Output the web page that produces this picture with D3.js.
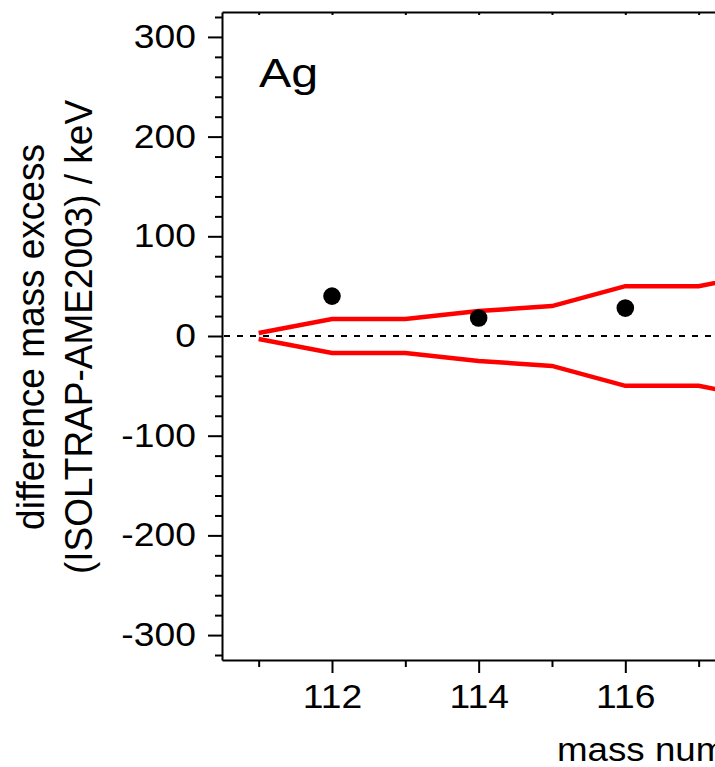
<!DOCTYPE html>
<html>
<head>
<meta charset="utf-8">
<script src="https://cdn.jsdelivr.net/npm/d3@7"></script>
<style>
  body { margin: 0; background: #fff; }
  svg { display: block; font-family: "Liberation Sans", Arial, sans-serif; }
  .axis path, .axis line { stroke: #000; stroke-width: 2; }
  .axis text { font-size: 33px; fill: #000; font-family: "Liberation Sans", Arial, sans-serif; }
</style>
</head>
<body>
<div id="chart"></div>
<script>
// data
var element = "Ag";
var massNumbers = [112, 114, 116];
var deltaME = [40, 18, 28];               // ISOLTRAP - AME2003, keV
var bandMass = [111, 112, 113, 114, 115, 116, 117, 118];
var bandErr = [3, 17, 17, 25, 30, 50, 50, 64]; // AME2003 uncertainty, keV
var yMajor = [-300, -200, -100, 0, 100, 200, 300];
var xMajor = [112, 114, 116, 118, 120];

var margin = {top: 12, left: 222, bottom: 107};
var width = 715, height = 767;
var plotH = height - margin.top - margin.bottom;
var stretch = 1.13; // the original is a bit wider than tall

var svg = d3.select("#chart").append("svg")
    .attr("width", width)
    .attr("height", height);

var g = svg.append("g")
    .attr("transform", "translate(" + margin.left + "," + margin.top + ")");

var x = d3.scaleLinear().domain([110.5, 120.5]).range([0, 733.3]);
var y = d3.scaleLinear().domain([-325, 325]).range([plotH, 0]);

var yMinor = d3.range(-320, 321, 20).filter(function(d) { return d % 100 != 0; });
var xAll = d3.range(111, 121);
var xMinor = xAll.filter(function(d) { return xMajor.indexOf(d) < 0; });

// zero line
g.append("line")
    .attr("x1", 0).attr("x2", x(120.5))
    .attr("y1", y(0)).attr("y2", y(0))
    .attr("stroke", "#000")
    .attr("stroke-width", 2)
    .attr("stroke-dasharray", "6,7")
    .attr("stroke-dashoffset", -2);

// uncertainty band
var line = d3.line()
    .x(function(d, i) { return x(bandMass[i]); })
    .y(function(d) { return y(d); });

g.append("path")
    .attr("d", line(bandErr))
    .attr("fill", "none")
    .attr("stroke", "#ff0000")
    .attr("stroke-width", 4.5);

g.append("path")
    .attr("d", line(bandErr.map(function(d) { return -d; })))
    .attr("fill", "none")
    .attr("stroke", "#ff0000")
    .attr("stroke-width", 4.5);

// points
g.selectAll("circle")
    .data(massNumbers)
    .enter()
    .append("circle")
    .attr("cx", function(d) { return x(d); })
    .attr("cy", function(d, i) { return y(deltaME[i]); })
    .attr("r", 8.8)
    .attr("fill", "#000");

// axes
g.append("g")
    .attr("class", "axis")
    .call(d3.axisLeft(y).tickValues(yMinor).tickSize(7).tickFormat(""))
    .select(".domain").remove();

var yAx = g.append("g")
    .attr("class", "axis")
    .call(d3.axisLeft(y).tickValues(yMajor).tickSize(14).tickSizeOuter(0)
        .tickFormat(function(d) { return String(d); }));
yAx.selectAll("text")
    .attr("x", 0)
    .attr("transform", "translate(-26,0) scale(" + stretch + ",1)");

g.append("g")
    .attr("class", "axis")
    .attr("transform", "translate(0," + plotH + ")")
    .call(d3.axisBottom(x).tickValues(xMinor).tickSize(7).tickFormat(""))
    .select(".domain").remove();

var xAx = g.append("g")
    .attr("class", "axis")
    .attr("transform", "translate(0," + plotH + ")")
    .call(d3.axisBottom(x).tickValues(xMajor).tickSize(13).tickSizeOuter(0).tickPadding(12));
xAx.selectAll("text")
    .attr("transform", "scale(" + stretch + ",1)");

g.append("g")
    .attr("class", "axis")
    .call(d3.axisTop(x).tickValues(xAll).tickSize(-3).tickSizeOuter(0).tickFormat(""));

// element label
svg.append("text")
    .attr("transform", "translate(259,87) scale(1.18,1)")
    .style("font-size", "41px")
    .text(element);

// axis titles
svg.append("text")
    .attr("transform", "translate(557,761) scale(1.08,1)")
    .style("font-size", "34px")
    .text("mass number");

var yTitle = svg.append("text")
    .attr("transform", "translate(0,337) scale(1.04,1) rotate(-90)")
    .attr("text-anchor", "middle")
    .style("font-size", "37px");

yTitle.append("tspan")
    .attr("x", 0).attr("y", 42)
    .text("difference mass excess");

yTitle.append("tspan")
    .attr("x", 0).attr("y", 88)
    .text("(ISOLTRAP-AME2003) / keV");
</script>
</body>
</html>
